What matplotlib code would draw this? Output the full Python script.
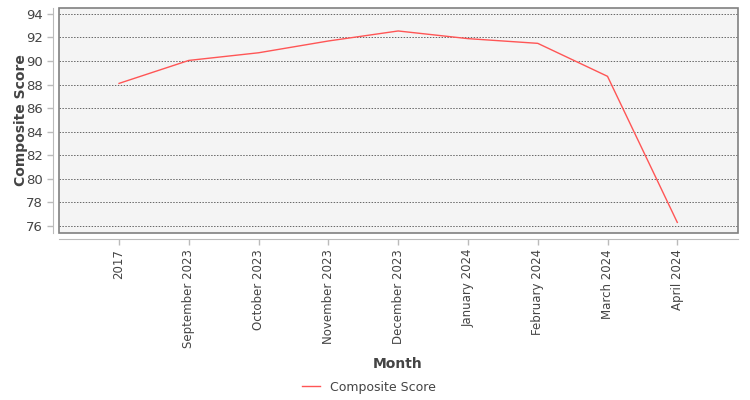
"""plot.py — composite score by month → out.png"""
import matplotlib
matplotlib.use("Agg")
import matplotlib.pyplot as plt
from matplotlib.patches import Rectangle

months = ["2017", "September 2023", "October 2023", "November 2023",
          "December 2023", "January 2024", "February 2024", "March 2024",
          "April 2024"]
composite = [88.1, 90.05, 90.7, 91.7, 92.55, 91.9, 91.5, 88.7, 76.3]
yticks = [76, 78, 80, 82, 84, 86, 88, 90, 92, 94]


def main():
    plt.rcParams["font.family"] = ["DejaVu Sans"]
    fig = plt.figure(figsize=(7.5, 4.0), dpi=100)
    ax = fig.add_axes([0.0787, 0.4175, 0.9053, 0.5625])
    ax.set_facecolor("#f4f4f4")

    x = list(range(len(months)))
    ax.plot(x, composite, color="#ff5555", lw=1.0, label="Composite Score")

    # outer axis lines, pushed out from the plot box (this resets ticks,
    # so do it before styling them)
    for side in ("left", "bottom"):
        ax.spines[side].set_position(("outward", 4))
        ax.spines[side].set_color("#bbbbbb")
    for side in ("top", "right"):
        ax.spines[side].set_visible(False)
    ax.add_patch(Rectangle((0, 0), 1, 1, transform=ax.transAxes, fill=False,
                           ec="#808080", lw=1.2, clip_on=False, zorder=5))

    ax.set_xlim(-0.86, 8.87)
    ax.set_ylim(75.4, 94.5)
    ax.set_yticks(yticks)
    ax.set_xticks(x)
    ax.set_xticklabels(months)
    ax.tick_params(axis="both", colors="#bbbbbb", labelcolor="#444444",
                   labelsize=8.5, length=4, width=1, direction="out")
    ax.tick_params(axis="x", labelrotation=90)
    ax.tick_params(axis="y", labelsize=9.5)
    ax.grid(True, axis="y", ls=(0, (1.5, 1.5)), color="#666666", lw=0.7)
    ax.set_axisbelow(True)

    ax.set_xlabel("Month", fontsize=10, fontweight="semibold",
                  color="#444444")
    ax.set_ylabel("Composite Score", fontsize=10, fontweight="semibold",
                  color="#444444")
    ax.xaxis.set_label_coords(0.498, -0.551)
    ax.yaxis.set_label_coords(-0.046, 0.5)

    fig.legend(loc="center", bbox_to_anchor=(0.492, 0.0325), frameon=False,
               fontsize=9, labelcolor="#444444", handlelength=1.5)
    fig.savefig("out.png", dpi=100)


if __name__ == "__main__":
    main()
